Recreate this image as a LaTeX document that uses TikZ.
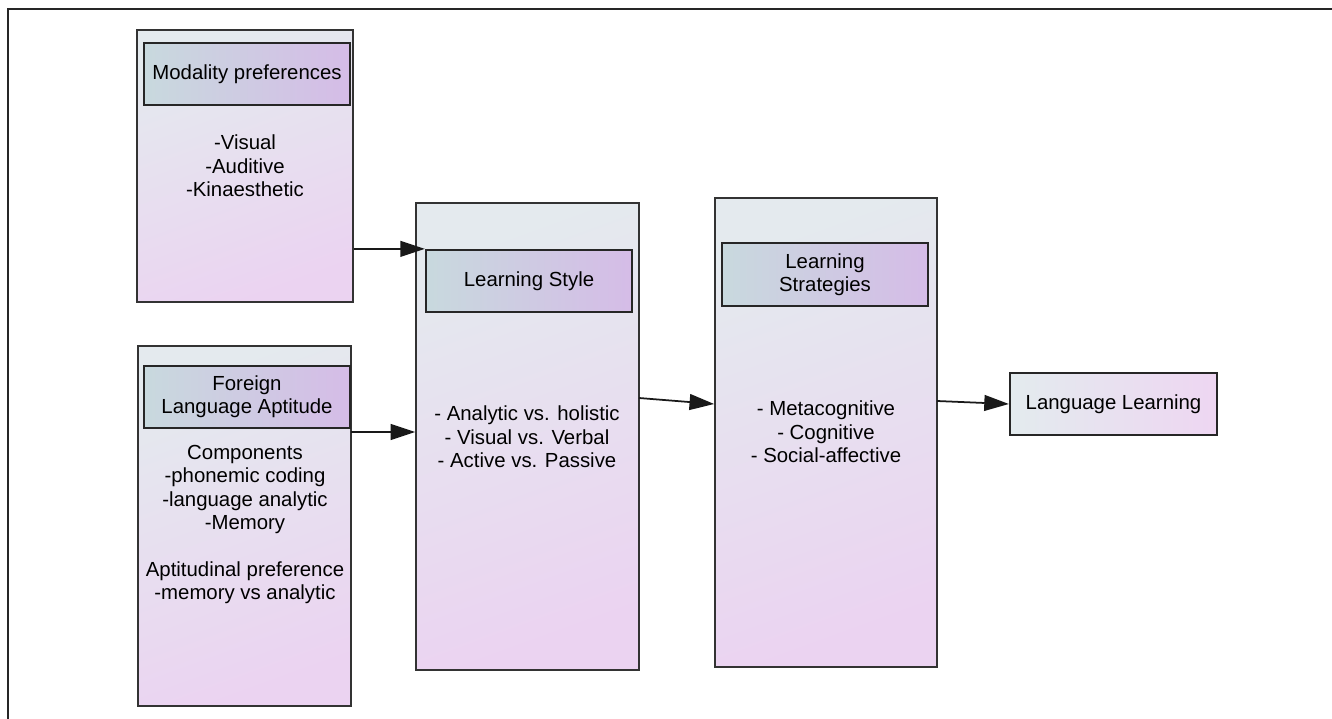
\documentclass[tikz,border=0pt]{standalone}
\usepackage{fontspec}
\setmainfont{Liberation Sans}
\usepackage{xcolor}
\usepackage{tikz}
\usetikzlibrary{arrows.meta}

\definecolor{boxtop}{HTML}{E4EAEE}
\definecolor{boxbot}{HTML}{EBD3F1}
\definecolor{headleft}{HTML}{C8D9DE}
\definecolor{headright}{HTML}{D5BCE7}
\definecolor{llleft}{HTML}{E3EBEE}
\definecolor{llright}{HTML}{EED6F2}

\tikzset{
  outerbox/.style={draw=black!80, line width=1pt, top color=boxtop, bottom color=boxbot, shading angle=20, inner sep=0pt},
  headbox/.style={draw=black!85, line width=1.3pt, left color=headleft, right color=headright, minimum width=4.12cm, minimum height=1.24cm, align=center, inner sep=0pt},
  bodytext/.style={align=center, inner sep=0pt},
  flow/.style={-{Triangle[length=14pt,width=9pt]}, line width=1pt, black!90}
}

\begin{document}
\begin{tikzpicture}[x=0.02cm, y=-0.02cm, font=\fontsize{11.6}{13.3}\selectfont]
    \useasboundingbox (0,0) rectangle (1332,719);

    % the frame is cut at the right and bottom
    \draw[line width=1.2pt, black!85] (8,719) -- (8,9) -- (1332,9);

    % modality preferences
    \node[outerbox, minimum width=4.32cm, minimum height=5.44cm] (mod) at (245,166) {};
    \node[headbox] (modhead) at (247,74) {Modality preferences};
    \node[bodytext] (modbody) at (245,166) {-Visual\\-Auditive\\-Kinaesthetic};

    % foreign language aptitude
    \node[outerbox, minimum width=4.26cm, minimum height=7.2cm] (fla) at (244.5,526) {};
    \node[headbox] (flahead) at (247,397) {Foreign\\Language Aptitude};
    \node[bodytext] (flabody) at (245,524.5) {Components\\-phonemic coding\\-language analytic\\-Memory\\[13.3pt]Aptitudinal preference\\-memory vs analytic};

    % learning style
    \node[outerbox, minimum width=4.46cm, minimum height=9.34cm] (ls) at (527.5,436.5) {};
    \node[headbox] (lshead) at (529,281) {Learning Style};
    \node[bodytext] (lsbody) at (527,437) {- Analytic vs. holistic\\- Visual vs. Verbal\\- Active vs. Passive};

    % learning strategies
    \node[outerbox, minimum width=4.44cm, minimum height=9.38cm] (lst) at (826,432.5) {};
    \node[headbox, minimum height=1.26cm] (lsthead) at (825,274.5) {Learning\\Strategies};
    \node[bodytext] (lstbody) at (826,432) {- Metacognitive\\- Cognitive\\- Social-affective};

    % language learning
    \node[draw=black!85, line width=1.3pt, left color=llleft, right color=llright, minimum width=4.14cm, minimum height=1.24cm, inner sep=0pt] (ll) at (1113.5,404) {Language Learning};

    % connectors
    \coordinate (o2) at (351,432);
    \coordinate (o3) at (639,398);
    \coordinate (o4) at (937,401);
    \draw[flow] (mod.east |- lshead.north) -- (lshead.north west);
    \draw[flow] (o2) -- (o2 -| ls.west);
    \draw[flow] (o3) -- (lst.west |- ll.west);
    \draw[flow] (o4) -- (ll.west);
\end{tikzpicture}
\end{document}
